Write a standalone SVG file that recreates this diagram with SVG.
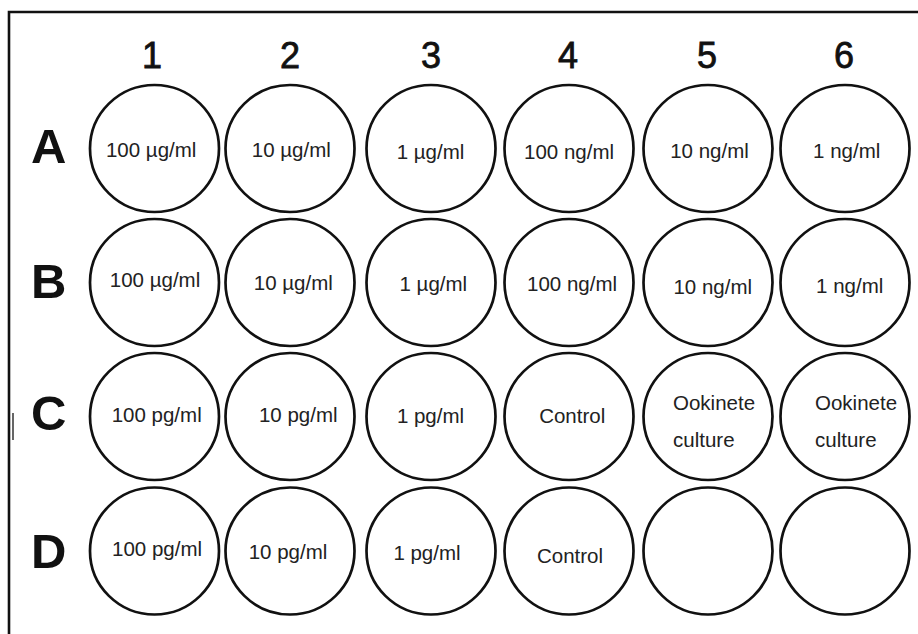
<svg xmlns="http://www.w3.org/2000/svg" width="918" height="634" viewBox="0 0 918 634">
<style>
.well{fill:#fff;stroke:#111;stroke-width:2.7}
.lbl{font-family:"Liberation Sans",Arial,sans-serif;font-size:20.5px;fill:#222;text-anchor:middle}
.lbs{font-family:"Liberation Sans",Arial,sans-serif;font-size:20.5px;fill:#222}
.col{font-family:"Liberation Sans",Arial,sans-serif;font-size:36px;fill:#111;stroke:#111;stroke-width:0.8;text-anchor:middle}
.row{font-family:"Liberation Sans",Arial,sans-serif;font-size:49px;font-weight:bold;fill:#111}
.frame{fill:none;stroke:#111;stroke-width:2.6}
</style>
<rect width="918" height="634" fill="#fff"/>
<path class="frame" d="M9,634 V12 H918"/>
<line x1="13" y1="413" x2="13" y2="440" stroke="#333" stroke-width="1.5"/>
<g id="headers">
<text class="col" x="152" y="68">1</text>
<text class="col" x="290" y="68">2</text>
<text class="col" x="431" y="68">3</text>
<text class="col" x="568" y="68">4</text>
<text class="col" x="707" y="68">5</text>
<text class="col" x="844" y="68">6</text>
<text class="row" x="31" y="163">A</text>
<text class="row" x="31" y="298">B</text>
<text class="row" x="31" y="430">C</text>
<text class="row" x="31" y="568">D</text>
</g>
<g id="A1"><ellipse class="well" cx="154.5" cy="148.5" rx="64.5" ry="63.5"/><text class="lbl" x="151.2" y="157">100 µg/ml</text></g>
<g id="A2"><ellipse class="well" cx="290" cy="148.5" rx="64.5" ry="63.5"/><text class="lbl" x="291.3" y="157">10 µg/ml</text></g>
<g id="A3"><ellipse class="well" cx="431" cy="148.5" rx="64.5" ry="63.5"/><text class="lbl" x="430.5" y="158.5">1 µg/ml</text></g>
<g id="A4"><ellipse class="well" cx="569" cy="148.5" rx="64.5" ry="63.5"/><text class="lbl" x="569" y="158.5">100 ng/ml</text></g>
<g id="A5"><ellipse class="well" cx="708" cy="148.5" rx="64.5" ry="63.5"/><text class="lbl" x="709.5" y="158">10 ng/ml</text></g>
<g id="A6"><ellipse class="well" cx="845" cy="148.5" rx="64.5" ry="63.5"/><text class="lbl" x="846.7" y="158">1 ng/ml</text></g>
<g id="B1"><ellipse class="well" cx="154.5" cy="282.5" rx="64.5" ry="63.5"/><text class="lbl" x="155" y="286.5">100 µg/ml</text></g>
<g id="B2"><ellipse class="well" cx="290" cy="282.5" rx="64.5" ry="63.5"/><text class="lbl" x="293.3" y="289.7">10 µg/ml</text></g>
<g id="B3"><ellipse class="well" cx="431" cy="282.5" rx="64.5" ry="63.5"/><text class="lbl" x="433.3" y="291.3">1 µg/ml</text></g>
<g id="B4"><ellipse class="well" cx="569" cy="282.5" rx="64.5" ry="63.5"/><text class="lbl" x="572" y="291.3">100 ng/ml</text></g>
<g id="B5"><ellipse class="well" cx="708" cy="282.5" rx="64.5" ry="63.5"/><text class="lbl" x="712.8" y="294">10 ng/ml</text></g>
<g id="B6"><ellipse class="well" cx="845" cy="282.5" rx="64.5" ry="63.5"/><text class="lbl" x="849.7" y="293">1 ng/ml</text></g>
<g id="C1"><ellipse class="well" cx="154.5" cy="416.5" rx="64.5" ry="63.5"/><text class="lbl" x="156.7" y="421.7">100 pg/ml</text></g>
<g id="C2"><ellipse class="well" cx="290" cy="416.5" rx="64.5" ry="63.5"/><text class="lbl" x="298.3" y="421.7">10 pg/ml</text></g>
<g id="C3"><ellipse class="well" cx="431" cy="416.5" rx="64.5" ry="63.5"/><text class="lbl" x="430.5" y="423.3">1 pg/ml</text></g>
<g id="C4"><ellipse class="well" cx="569" cy="416.5" rx="64.5" ry="63.5"/><text class="lbl" x="572.2" y="423.3">Control</text></g>
<g id="C5"><ellipse class="well" cx="708" cy="416.5" rx="64.5" ry="63.5"/><text class="lbs" x="673" y="410">Ookinete</text><text class="lbs" x="673" y="446.5">culture</text></g>
<g id="C6"><ellipse class="well" cx="845" cy="416.5" rx="64.5" ry="63.5"/><text class="lbs" x="815" y="410">Ookinete</text><text class="lbs" x="815" y="446.5">culture</text></g>
<g id="D1"><ellipse class="well" cx="154.5" cy="551" rx="64.5" ry="63.5"/><text class="lbl" x="157" y="556.3">100 pg/ml</text></g>
<g id="D2"><ellipse class="well" cx="290" cy="551" rx="64.5" ry="63.5"/><text class="lbl" x="288" y="558.8">10 pg/ml</text></g>
<g id="D3"><ellipse class="well" cx="431" cy="551" rx="64.5" ry="63.5"/><text class="lbl" x="427" y="559.8">1 pg/ml</text></g>
<g id="D4"><ellipse class="well" cx="569" cy="551" rx="64.5" ry="63.5"/><text class="lbl" x="570" y="563.3">Control</text></g>
<g id="D5"><ellipse class="well" cx="708" cy="551" rx="64.5" ry="63.5"/></g>
<g id="D6"><ellipse class="well" cx="845" cy="551" rx="64.5" ry="63.5"/></g>
<g id="connectors"/>
</svg>
